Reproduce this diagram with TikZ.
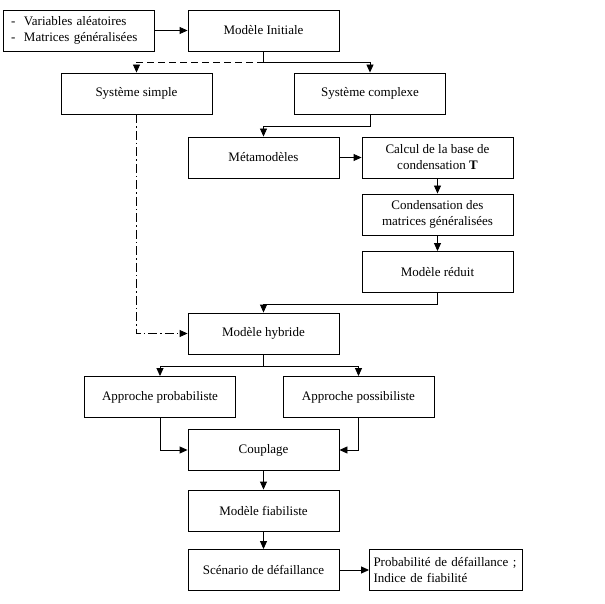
\documentclass[tikz,border=0pt]{standalone}
\usepackage{fontspec}
\setmainfont{Liberation Serif}
\usetikzlibrary{arrows.meta}
\tikzset{>={Triangle[length=8pt,width=7pt]}}
\tikzset{bloc/.style={draw,line width=0.9pt,minimum width=151pt,minimum height=41pt,align=center,inner sep=2pt}}
\tikzset{liste/.style={draw,line width=0.9pt,minimum height=41pt,text width=135pt,align=left,inner xsep=8pt,inner ysep=2pt}}
\colorlet{penColor}{black}

\begin{document}
\begin{tikzpicture}[x=1pt,y=-1pt,line width=0.9pt,font=\fontsize{13}{16}\selectfont]
  \useasboundingbox (0,0) rectangle (605,604);
      \node[liste] (entree) at (78.5,30.5) {-~~Variables aléatoires\\-~~Matrices généralisées};
      \node[bloc] (initial) at (263.5,30.5) {Modèle Initiale};
      \node[bloc] (simple) at (136.5,93.5) {Système simple};
      \node[bloc] (complexe) at (370,93.5) {Système complexe};
      \node[bloc] (meta) at (263.5,157.5) {Métamodèles};
      \node[bloc] (calcul) at (437.5,157.5) {Calcul de la base de\\condensation \textbf{T}};
      \node[bloc] (condens) at (437.5,214.5) {Condensation des\\matrices généralisées};
      \node[bloc] (reduit) at (437.5,272) {Modèle réduit};
      \node[bloc] (hybride) at (263.5,333.5) {Modèle hybride};
      \node[bloc] (proba) at (160,397) {Approche probabiliste};
      \node[bloc] (possib) at (358.5,397) {Approche possibiliste};
      \node[bloc] (couplage) at (263.5,450) {Couplage};
      \node[bloc] (fiab) at (263.5,510.5) {Modèle fiabiliste};
      \node[bloc] (scenario) at (263.5,570) {Scénario de défaillance};
      \node[liste,inner xsep=4pt,text width=145pt] (resultat) at (446,570) {Probabilité de défaillance ;\\Indice de fiabilité};

      \draw[->] (entree) -- (initial);
      \draw[->] (initial.south) -- ++(0,11) -| (complexe.north);
      \draw[->,dash pattern=on 7pt off 4pt] ([yshift=-11pt]initial.south) -| (simple.north);% branche simple
      \draw[->,dash pattern=on 9pt off 3pt on 1.5pt off 3pt] (simple.south) |- (hybride.west);
      \draw[->] (complexe.south) -- ++(0,12) -| (meta.north);
      \draw[->] (meta) -- (calcul);
      \draw[->] (calcul) -- (condens);
      \draw[->] (condens) -- (reduit);
      \draw[->] (reduit.south) -- ++(0,11) -| (hybride.north);
      \draw[->] (hybride.south) -- ++(0,12) -| (proba.north);
      \draw[->] (hybride.south) -- ++(0,12) -| (possib.north);
      \draw[->] (proba.south) |- (couplage.west);
      \draw[->] (possib.south) |- (couplage.east);
      \draw[->] (couplage) -- (fiab);
      \draw[->] (fiab) -- (scenario);
      \draw[->] (scenario) -- (resultat);
\end{tikzpicture}
\end{document}
